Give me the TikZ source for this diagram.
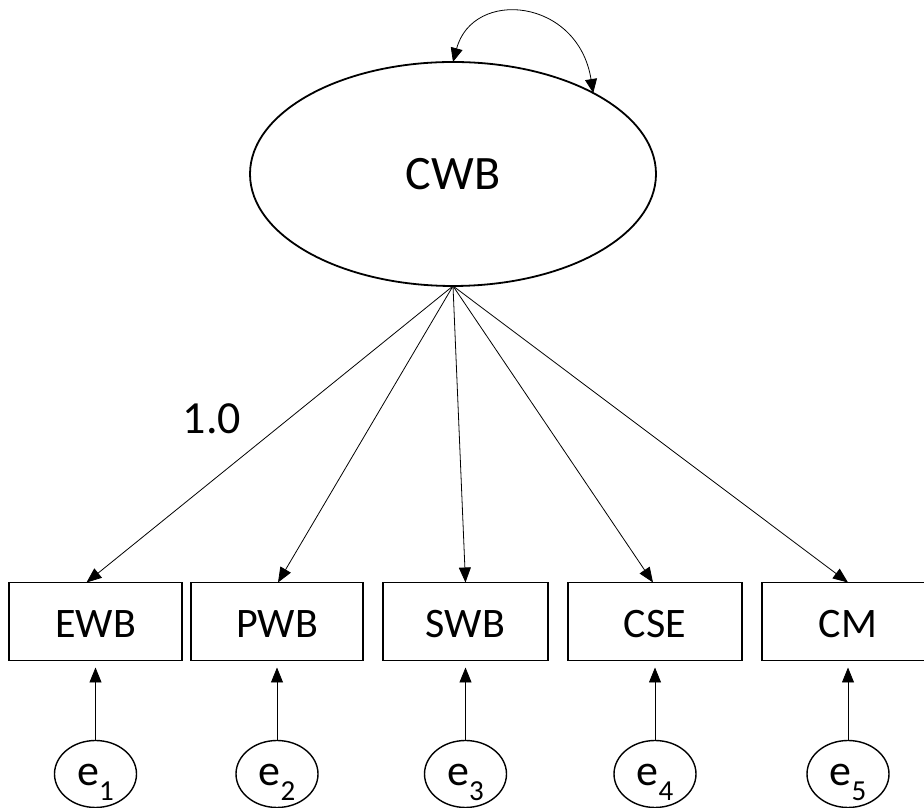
\documentclass[tikz,border=0pt]{standalone}
\usepackage{fontspec}
\setmainfont{Carlito}
\usetikzlibrary{positioning,shapes,arrows.meta}

\newcommand{\esub}[1]{e\raisebox{-15pt}{\fontsize{29}{30}\selectfont #1}}

\begin{document}
\begin{tikzpicture}[x=1pt,y=1pt]
    \tikzstyle{every node}=[inner sep=0,outer sep=0]
    \tikzstyle{latent}=[draw,ellipse,line width=1.8,minimum width=406,minimum height=224,font=\fontsize{48}{56}\selectfont]
    \tikzstyle{obs}=[draw,rectangle,line width=1.5,minimum height=78,text height=33,text depth=0,font=\fontsize{42}{50}\selectfont]
    \tikzstyle{err}=[draw,ellipse,line width=1.4,minimum width=82,minimum height=67,text height=24,text depth=0,font=\fontsize{44}{50}\selectfont]
    \tikzstyle{load}=[-{Triangle[length=15pt,width=12pt]},line width=0.8]
    \tikzstyle{cov}=[{Triangle[length=14pt,width=12pt]}-{Triangle[length=14pt,width=12pt]},line width=0.8]
    \useasboundingbox (0,0) rectangle (924,808);
    \fill[white] (0,0) rectangle (924,808);
    {
        \node[latent] (cwb) at (453,634) {CWB};
        \draw[cov] (cwb.north) .. controls (473,820) and (578,810) .. (cwb.30);

        \foreach \nm/\lbl/\x/\w/\dx [count=\i] in {ewb/EWB/95.5/173/-9,pwb/PWB/277/172/1,swb/SWB/465.5/165/0,cse/CSE/655/174/-2,cm/CM/848/172/0} {
            \node[obs,minimum width=\w] (\nm) at (\x,186.5) {\lbl};
            \node[err] (e\i) at (\x,34) {\esub{\i}};
            \draw[load] (cwb.south) -- ([xshift=\dx]\nm.north);
            \draw[load,shorten >=7pt] (e\i) -- (\nm.south);
        }
        \node[font=\fontsize{46}{50}\selectfont] (w1) at (212,389) {1.0};
    }
\end{tikzpicture}
\end{document}
